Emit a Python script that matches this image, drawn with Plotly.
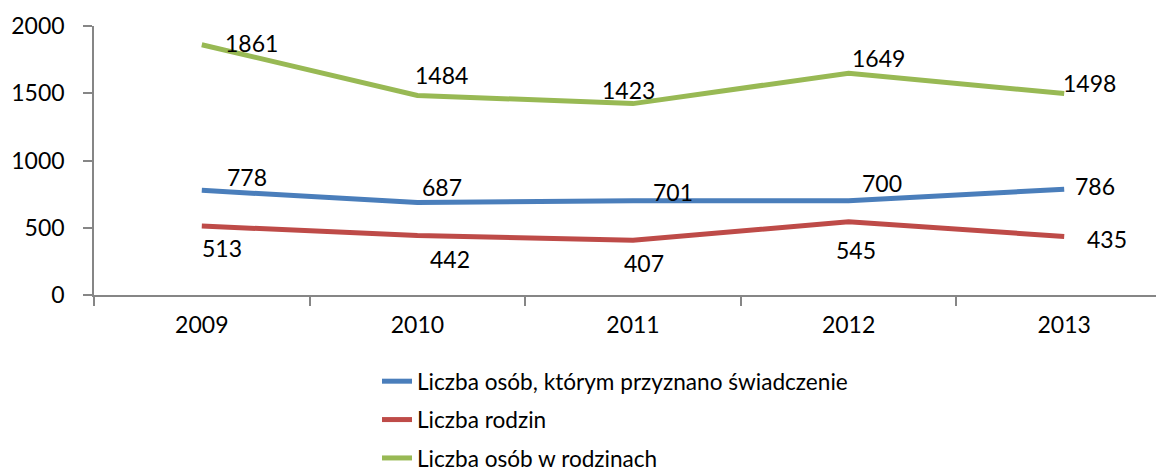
import plotly.graph_objects as go

years = ["2009", "2010", "2011", "2012", "2013"]
persons_granted = [778, 687, 701, 700, 786]
families = [513, 442, 407, 545, 435]
persons_in_families = [1861, 1484, 1423, 1649, 1498]

names = ["Liczba osób, którym przyznano świadczenie", "Liczba rodzin", "Liczba osób w rodzinach"]
colors = ["#4A7EBB", "#BE4B48", "#98B954"]
series = [persons_granted, families, persons_in_families]

# label offsets (px) per series per point, mimicking the original placement
offsets = [
    [(45, 13), (25, 16), (40, 9), (33, 18), (31, 3)],
    [(20, -22), (33, -23), (11, -23), (7, -28), (43, -3)],
    [(50, 2), (24, 20), (-5, 14), (30, 15), (25, 11)],
]

FONT = "Lato"
fig = go.Figure()
for i, (name, col, vals) in enumerate(zip(names, colors, series)):
    fig.add_trace(go.Scatter(
        x=years, y=vals, mode="lines", name=name,
        line=dict(color=col, width=5), legendgroup=f"g{i}",
    ))

annotations = []
for vals, offs in zip(series, offsets):
    for idx, (v, (dx, dy)) in enumerate(zip(vals, offs)):
        annotations.append(dict(
            x=idx, y=v, xref="x", yref="y", text=str(v), showarrow=False,
            xshift=dx, yshift=dy, font=dict(family=FONT, size=23, color="black"),
        ))

fig.update_layout(
    width=1164, height=471,
    margin=dict(l=86, r=0, t=18, b=184, autoexpand=False),
    paper_bgcolor="white", plot_bgcolor="white",
    showlegend=True,
    legend=dict(
        orientation="v", xref="container", yref="container",
        x=369 / 1164, y=1 - 352 / 471, xanchor="left", yanchor="top",
        font=dict(family=FONT, size=22.6, color="black"),
        tracegroupgap=6, traceorder="grouped",
        bgcolor="rgba(0,0,0,0)",
    ),
    annotations=annotations,
    font=dict(family=FONT, size=23, color="black"),
)
fig.update_xaxes(
    type="category", range=[-0.5, 4.5],
    showline=True, linecolor="#868686", linewidth=1.5,
    ticks="outside", tickson="boundaries", ticklen=9, tickcolor="#868686", tickwidth=1.5,
    showgrid=False, zeroline=False, tickangle=0, ticklabelstandoff=9,
    tickfont=dict(family=FONT, size=23, color="black"),
)
fig.update_yaxes(
    range=[0, 2000], tickvals=[0, 500, 1000, 1500, 2000],
    showline=True, linecolor="#868686", linewidth=1.5,
    ticks="outside", ticklen=9, tickcolor="#868686", tickwidth=1.5,
    showgrid=False, zeroline=False, ticklabelstandoff=14,
    tickfont=dict(family=FONT, size=23, color="black"),
)

fig.write_html("out.html")
